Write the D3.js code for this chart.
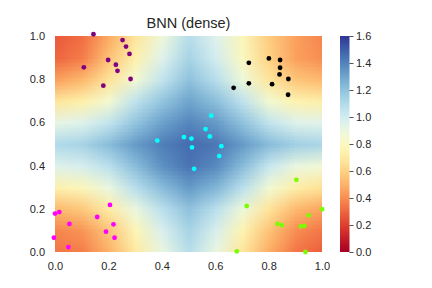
<!DOCTYPE html>
<html>
<head>
<meta charset="utf-8">
<script src="https://cdn.jsdelivr.net/npm/d3@7"></script>
<style>
  body { margin: 0; background: #fff; }
  svg { font-family: "Liberation Sans", Arial, sans-serif; }
</style>
</head>
<body>
<svg id="chart"></svg>
<script>
// grid of predicted values (rows: y = 1.0 down to 0.0)
const gridX = [0, 0.1, 0.2, 0.3, 0.4, 0.5, 0.6, 0.7, 0.8, 0.9, 1.0];
const gridY = [1.0, 0.9, 0.8, 0.7, 0.6, 0.5, 0.4, 0.3, 0.2, 0.1, 0.0];
const field = [
  [0.27, 0.32, 0.48, 0.68, 0.88, 1.08, 0.95, 0.78, 0.58, 0.45, 0.38],
  [0.30, 0.36, 0.55, 0.74, 0.95, 1.13, 0.99, 0.80, 0.60, 0.45, 0.40],
  [0.45, 0.52, 0.67, 0.86, 1.05, 1.20, 1.08, 0.88, 0.68, 0.56, 0.52],
  [0.68, 0.73, 0.85, 1.06, 1.19, 1.30, 1.21, 1.06, 0.85, 0.75, 0.72],
  [0.92, 0.95, 1.05, 1.19, 1.31, 1.39, 1.33, 1.20, 1.05, 0.95, 0.94],
  [1.10, 1.13, 1.22, 1.33, 1.41, 1.46, 1.43, 1.33, 1.22, 1.15, 1.12],
  [0.95, 0.98, 1.07, 1.22, 1.36, 1.44, 1.38, 1.22, 1.03, 0.90, 0.86],
  [0.74, 0.78, 0.90, 1.08, 1.22, 1.33, 1.24, 1.07, 0.86, 0.72, 0.66],
  [0.52, 0.57, 0.71, 0.90, 1.07, 1.20, 1.07, 0.88, 0.67, 0.52, 0.46],
  [0.38, 0.42, 0.56, 0.77, 0.97, 1.13, 0.97, 0.75, 0.55, 0.40, 0.34],
  [0.34, 0.36, 0.50, 0.70, 0.90, 1.08, 0.90, 0.68, 0.48, 0.34, 0.28]
];

// training points, one array per cluster
const purplePts = [[0.144, 1.008], [0.253, 0.981], [0.266, 0.951], [0.279, 0.917], [0.199, 0.889],
  [0.228, 0.867], [0.108, 0.855], [0.234, 0.839], [0.283, 0.801], [0.181, 0.770]];
const blackPts = [[0.726, 0.876], [0.801, 0.896], [0.843, 0.889], [0.843, 0.853], [0.841, 0.822],
  [0.874, 0.801], [0.726, 0.781], [0.813, 0.777], [0.669, 0.760], [0.873, 0.728]];
const cyanPts = [[0.585, 0.631], [0.564, 0.569], [0.580, 0.535], [0.483, 0.532], [0.511, 0.525],
  [0.383, 0.516], [0.623, 0.490], [0.513, 0.484], [0.615, 0.444], [0.521, 0.385]];
const magentaPts = [[0.206, 0.218], [0.0, 0.178], [0.016, 0.185], [0.158, 0.162], [0.054, 0.130],
  [0.219, 0.128], [0.191, 0.094], [0.223, 0.066], [-0.004, 0.066], [0.050, 0.023]];
const greenPts = [[0.904, 0.334], [0.718, 0.213], [1.0, 0.198], [0.950, 0.170], [0.833, 0.130],
  [0.850, 0.124], [0.921, 0.119], [0.934, 0.121], [0.681, 0.003], [0.938, 0.0]];

const axisTicks = [0, 0.2, 0.4, 0.6, 0.8, 1.0];
const cbarTicks = [0, 0.2, 0.4, 0.6, 0.8, 1.0, 1.2, 1.4, 1.6];
const title = 'BNN (dense)';

const width = 432, height = 288;
const plot = { left: 55, right: 322, top: 36, bottom: 252 };
const cbar = { left: 340, width: 9.5 };
const textColor = '#262626';
const fontFamily = '"Liberation Sans", Arial, sans-serif';

const svg = d3.select('#chart').attr('width', width).attr('height', height);

const x = d3.scaleLinear().domain([0, 1]).range([plot.left, plot.right]);
const y = d3.scaleLinear().domain([0, 1]).range([plot.bottom, plot.top]);
const color = d3.scaleSequential(d3.interpolateRdYlBu).domain([0, 1.6]);

// heat map: small canvas, one pixel per grid value, scaled smoothly into the axes
const canvas = document.createElement('canvas');
canvas.width = gridX.length;
canvas.height = gridY.length;
const ctx = canvas.getContext('2d');
field.forEach((row, j) => {
  row.forEach((v, i) => {
    ctx.fillStyle = color(v);
    ctx.fillRect(i, j, 1, 1);
  });
});

const defs = svg.append('defs');
defs.append('clipPath').attr('id', 'plot-clip')
  .append('rect')
  .attr('x', plot.left).attr('y', plot.top)
  .attr('width', plot.right - plot.left).attr('height', plot.bottom - plot.top);

const stepX = gridX[1] - gridX[0];
const stepY = gridY[0] - gridY[1];
svg.append('image')
  .attr('clip-path', 'url(#plot-clip)')
  .attr('href', canvas.toDataURL())
  .attr('preserveAspectRatio', 'none')
  .attr('x', x(gridX[0] - stepX / 2))
  .attr('y', y(gridY[0] + stepY / 2))
  .attr('width', x(gridX[gridX.length - 1] + stepX / 2) - x(gridX[0] - stepX / 2))
  .attr('height', y(gridY[gridY.length - 1] - stepY / 2) - y(gridY[0] + stepY / 2));

// axes (seaborn white: no spines, no tick marks)
const xAxis = svg.append('g')
  .attr('transform', `translate(0,${plot.bottom})`)
  .call(d3.axisBottom(x).tickValues(axisTicks).tickFormat(d3.format('.1f')).tickSize(0).tickPadding(10));
const yAxis = svg.append('g')
  .attr('transform', `translate(${plot.left},0)`)
  .call(d3.axisLeft(y).tickValues(axisTicks).tickFormat(d3.format('.1f')).tickSize(0).tickPadding(10));
[xAxis, yAxis].forEach(a => {
  a.select('.domain').remove();
  a.selectAll('text').attr('fill', textColor).style('font-size', '11px')
    .style('font-family', fontFamily);
});

// scatter points
const clusters = [
  { pts: purplePts, fill: '#800080' },
  { pts: blackPts, fill: '#000000' },
  { pts: cyanPts, fill: '#00ffff' },
  { pts: magentaPts, fill: '#ff00ff' },
  { pts: greenPts, fill: '#7cfc00' }
];
clusters.forEach(c => {
  svg.append('g').selectAll('circle')
    .data(c.pts)
    .enter()
    .append('circle')
    .attr('cx', d => x(d[0]))
    .attr('cy', d => y(d[1]))
    .attr('r', 2.4)
    .attr('fill', c.fill);
});

// title
svg.append('text')
  .attr('x', (plot.left + plot.right) / 2)
  .attr('y', 28)
  .attr('text-anchor', 'middle')
  .attr('fill', textColor)
  .style('font-size', '14.5px')
  .style('font-family', fontFamily)
  .text(title);

// colorbar
const cbarScale = d3.scaleLinear().domain([0, 1.6]).range([plot.bottom, plot.top]);
const gradient = defs.append('linearGradient')
  .attr('id', 'cbar-gradient')
  .attr('x1', '0%').attr('y1', '100%')
  .attr('x2', '0%').attr('y2', '0%');
gradient.selectAll('stop')
  .data(d3.range(0, 1.001, 0.02))
  .enter()
  .append('stop')
  .attr('offset', d => `${d * 100}%`)
  .attr('stop-color', d => color(d * 1.6));

svg.append('rect')
  .attr('x', cbar.left)
  .attr('y', plot.top)
  .attr('width', cbar.width)
  .attr('height', plot.bottom - plot.top)
  .attr('fill', 'url(#cbar-gradient)');

const cAxis = svg.append('g')
  .attr('transform', `translate(${cbar.left + cbar.width},0)`)
  .call(d3.axisRight(cbarScale).tickValues(cbarTicks).tickFormat(d3.format('.1f')).tickSize(4).tickPadding(2.5));
cAxis.select('.domain').remove();
cAxis.selectAll('line').attr('stroke', textColor).attr('stroke-width', 0.8);
cAxis.selectAll('text').attr('fill', textColor).style('font-size', '11px')
  .style('font-family', fontFamily);
</script>
</body>
</html>
